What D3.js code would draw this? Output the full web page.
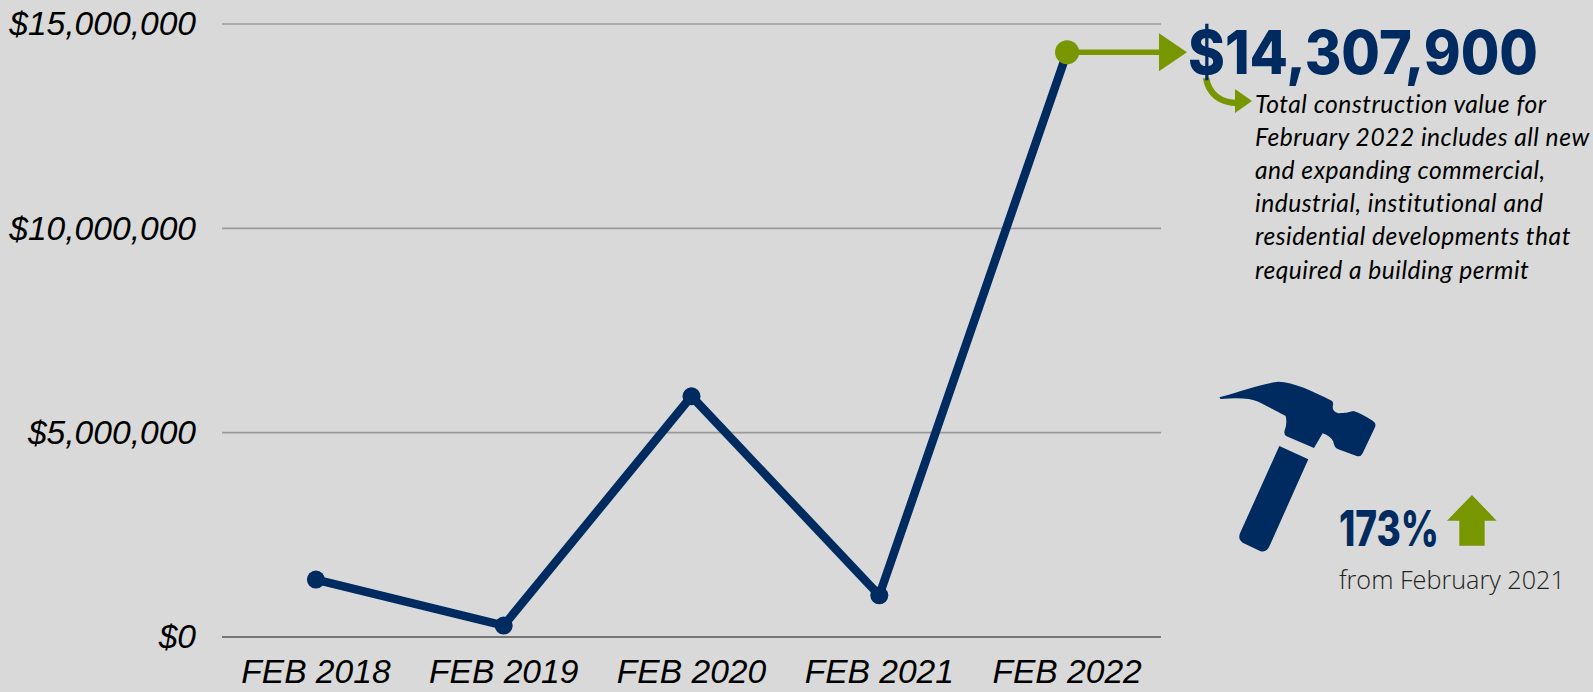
<!DOCTYPE html>
<html>
<head>
<meta charset="utf-8">
<script src="https://cdn.jsdelivr.net/npm/d3@7"></script>
<style>
  html, body { margin: 0; padding: 0; background: #d9d9d9; overflow: hidden; }
  svg { display: block; }
</style>
</head>
<body>
<div id="chart"></div>
<script>
const YEARS = ['FEB 2018', 'FEB 2019', 'FEB 2020', 'FEB 2021', 'FEB 2022'];
const VALUES = [1405000, 280000, 5890000, 1020000, 14307900];
const Y_TICKS = [0, 5000000, 10000000, 15000000];
const NOTE_LINES = [
  'Total construction value for',
  'February 2022 includes all new',
  'and expanding commercial,',
  'industrial, institutional and',
  'residential developments that',
  'required a building permit'
];

const NAVY = '#002b60', GREEN = '#789600';
const W = 1593, H = 692, M = { t: 24, r: 432, b: 55, l: 222 };
const AXIS_FONT = '"Liberation Sans", Arial, sans-serif';

const svg = d3.select('#chart').append('svg').attr('width', W).attr('height', H).attr('viewBox', `0 0 ${W} ${H}`);
svg.append('rect').attr('width', W).attr('height', H).attr('fill', '#d9d9d9');

const x = d3.scaleBand().domain(YEARS).range([M.l, W - M.r]);
const y = d3.scaleLinear().domain([0, 15000000]).range([H - M.b, M.t]);
const cx = d => x(d) + x.bandwidth() / 2;

// gridlines
svg.append('g').selectAll('line').data(Y_TICKS).enter().append('line')
  .attr('x1', M.l).attr('x2', W - M.r).attr('y1', d => y(d)).attr('y2', d => y(d))
  .attr('stroke', d => d === 0 ? '#555' : '#9a9a9a').attr('stroke-width', 1.6);

const yAxis = svg.append('g').attr('transform', `translate(${M.l},0)`)
  .call(d3.axisLeft(y).tickValues(Y_TICKS).tickSize(0).tickPadding(26).tickFormat(d => '$' + d3.format(',')(d)));
const xAxis = svg.append('g').attr('transform', `translate(0,${H - M.b})`)
  .call(d3.axisBottom(x).tickSize(0).tickPadding(22));
[yAxis, xAxis].forEach(a => {
  a.select('.domain').remove();
  a.selectAll('text').attr('fill', '#000').style('font-family', AXIS_FONT).style('font-style', 'italic').style('font-size', '33.6px');
});

// series
const pts = YEARS.map((d, i) => [cx(d), y(VALUES[i])]);
svg.append('path').attr('d', d3.line()(pts)).attr('fill', 'none').attr('stroke', NAVY).attr('stroke-width', 8.5).attr('stroke-linejoin', 'miter');
svg.append('g').selectAll('circle').data(pts).enter().append('circle')
  .attr('cx', d => d[0]).attr('cy', d => d[1]).attr('r', (d, i) => i === 4 ? 12 : 9)
  .attr('fill', (d, i) => i === 4 ? GREEN : NAVY);

// callout arrow from the last point
const last = pts[4];
svg.append('line').attr('x1', last[0]).attr('x2', 1162).attr('y1', last[1]).attr('y2', last[1]).attr('stroke', GREEN).attr('stroke-width', 5.5);
svg.append('path').attr('d', `M1159,${last[1] - 19}L1187,${last[1]}L1159,${last[1] + 19}Z`).attr('fill', GREEN);

// curved arrow to the note
svg.append('path').attr('d', 'M1206,78C1209,94 1220,103 1238,103').attr('fill', 'none').attr('stroke', GREEN).attr('stroke-width', 6.5);
svg.append('path').attr('d', 'M1235,89L1252,101L1235,113Z').attr('fill', GREEN);

// big number
svg.append('text').attr('x', 1188).attr('y', 74).attr('fill', NAVY)
  .style('font-family', 'Inter, sans-serif').style('font-weight', 800).style('font-size', '60px')
  .attr('textLength', 350).attr('lengthAdjust', 'spacingAndGlyphs').text('$14,307,900');

svg.append('g').selectAll('text').data(NOTE_LINES).enter().append('text')
  .attr('x', 1255).attr('y', (d, i) => 113 + i * 33.1)
  .attr('fill', '#000').style('font-family', 'Lato, sans-serif').style('font-style', 'italic').style('font-size', '24.6px').style('font-weight', 400).style('letter-spacing', '0.5px')
  .text(d => d);

// hammer icon, traced in a 3x box
const icon = svg.append('g').attr('transform', 'translate(1190,360) scale(0.3333)').attr('fill', NAVY);
icon.append('path').attr('d', 'M88,112C150,95 220,70 265,65C310,65 370,95 425,122Q432,127 428,140Q428,155 445,160Q470,160 490,153Q510,158 548,182Q560,190 555,202L518,280Q512,292 500,288L445,268Q432,262 430,245Q422,228 398,220L372,264L288,228Q280,222 285,208Q292,190 287,168L205,125Q170,110 92,117Z');
icon.append('path').attr('d', 'M268,258L355,298L240,555Q230,580 210,573L158,548Q143,538 150,520Z');
icon.append('path').attr('d', 'M846,405L920,482L884,482L884,557L808,557L808,482L771,482Z').attr('fill', GREEN);

svg.append('text').attr('x', 1339).attr('y', 546).attr('fill', NAVY)
  .style('font-family', 'Inter, sans-serif').style('font-weight', 800).style('font-size', '49px')
  .attr('textLength', 100).attr('lengthAdjust', 'spacingAndGlyphs').text('173%');
svg.append('text').attr('x', 1339).attr('y', 589).attr('fill', '#222')
  .style('font-family', '"Open Sans", sans-serif').style('font-weight', 300).style('font-size', '25.2px').text('from February 2021');
</script>
</body>
</html>
